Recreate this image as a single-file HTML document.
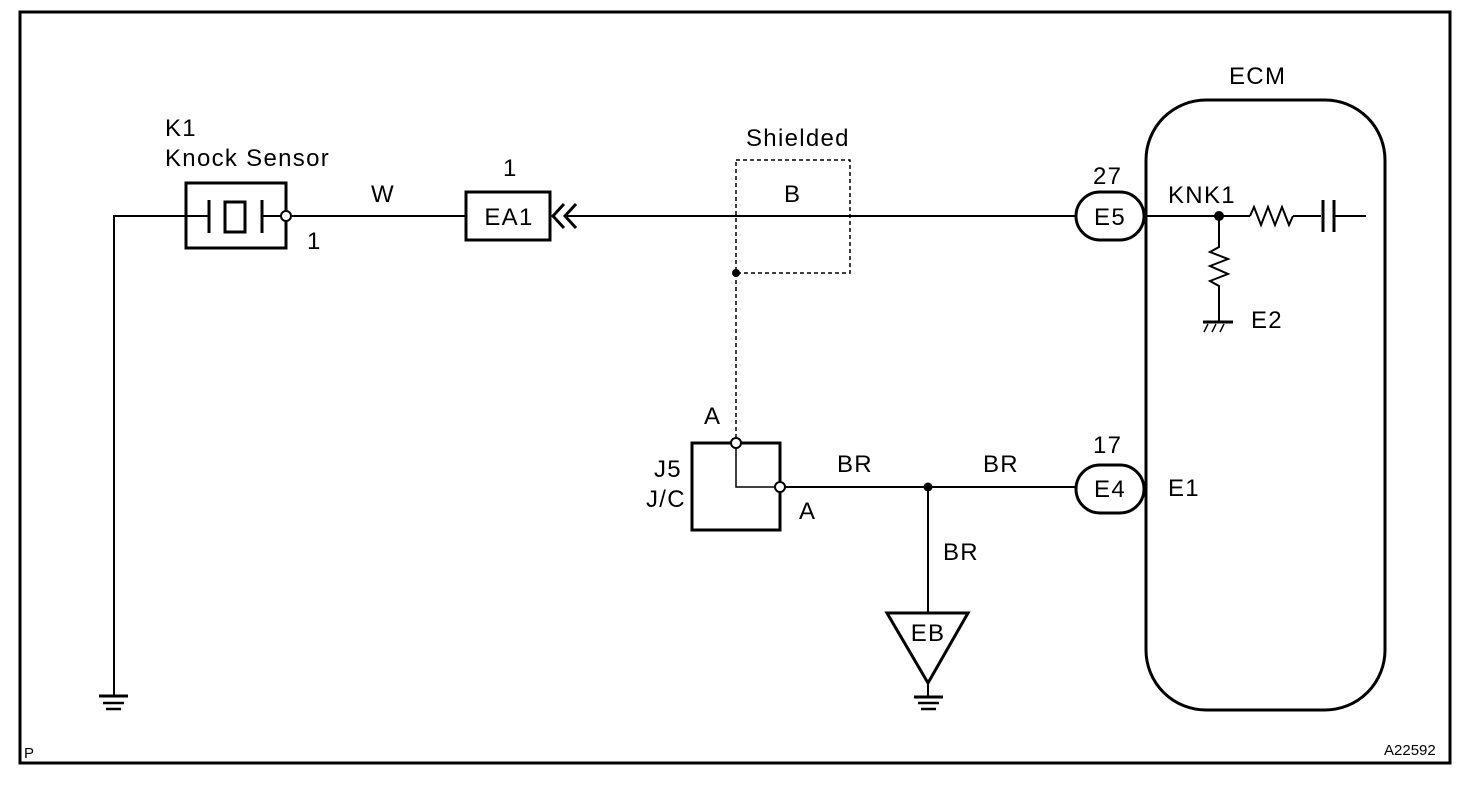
<!DOCTYPE html>
<html><head><style>
html,body{margin:0;padding:0;background:#fff;}
svg text{font-family:"Liberation Sans",Arial,sans-serif;font-size:24px;letter-spacing:1.3px;fill:#000;}
</style></head><body>
<svg width="1472" height="784" viewBox="0 0 1472 784" xmlns="http://www.w3.org/2000/svg">
<rect x="20" y="12" width="1430" height="751" fill="none" stroke="#000" stroke-width="3"/>
<g stroke="#000" fill="none" stroke-width="2">
<polyline points="185,216 114,216 114,696"/>
<line x1="99" y1="696" x2="128" y2="696" stroke-width="3"/>
<line x1="103" y1="703" x2="124" y2="703" stroke-width="2.5"/>
<line x1="106" y1="709" x2="121" y2="709" stroke-width="2.5"/>
<rect x="186" y="183" width="100" height="65" stroke-width="3"/>
<line x1="186" y1="216" x2="209" y2="216"/>
<line x1="209" y1="200" x2="209" y2="233" stroke-width="3"/>
<rect x="225" y="202" width="20" height="30" stroke-width="3"/>
<line x1="262" y1="200" x2="262" y2="233" stroke-width="3"/>
<line x1="262" y1="216" x2="281" y2="216"/>
<circle cx="286" cy="216" r="5" fill="#fff"/>
<line x1="291" y1="216" x2="466" y2="216"/>
<rect x="466" y="192" width="84" height="48" stroke-width="3"/>
<polyline points="564,204 553,216 564,228" stroke-width="3"/>
<polyline points="576,204 565,216 576,228" stroke-width="3"/>
<line x1="566" y1="216" x2="1076" y2="216"/>
<rect x="736" y="160" width="114" height="113" stroke-dasharray="4,3" stroke-width="1.5"/>
<line x1="736" y1="273" x2="736" y2="438" stroke-dasharray="4,3" stroke-width="1.5"/>
<rect x="692" y="443" width="88" height="87" stroke-width="3"/>
<polyline points="736,448 736,487 775,487" stroke-width="1.5"/>
<circle cx="736" cy="443" r="5" fill="#fff"/>
<circle cx="780" cy="487" r="5" fill="#fff"/>
<line x1="785" y1="487" x2="1076" y2="487"/>
<line x1="928" y1="487" x2="928" y2="613"/>
<polygon points="887,613 968,613 928,683" stroke-width="3"/>
<line x1="928" y1="683" x2="928" y2="696"/>
<line x1="914" y1="697" x2="943" y2="697" stroke-width="3"/>
<line x1="918" y1="703" x2="939" y2="703" stroke-width="2.5"/>
<line x1="921" y1="709" x2="936" y2="709" stroke-width="2.5"/>
<rect x="1076" y="192" width="68" height="48" rx="24" stroke-width="3"/>
<rect x="1076" y="465" width="68" height="48" rx="24" stroke-width="3"/>
<rect x="1146" y="100" width="239" height="610" rx="60" stroke-width="3"/>
<line x1="1146" y1="216" x2="1250" y2="216"/>
<polyline points="1250,216 1254,207 1261,225 1268,207 1275,225 1282,207 1289,225 1293,216"/>
<line x1="1293" y1="216" x2="1321" y2="216"/>
<line x1="1323" y1="200" x2="1323" y2="232" stroke-width="3"/>
<line x1="1334" y1="200" x2="1334" y2="232" stroke-width="3"/>
<line x1="1335" y1="216" x2="1366" y2="216"/>
<polyline points="1219,216 1219,247 1210,252 1228,259 1210,266 1228,274 1210,281 1219,286 1219,322"/>
<line x1="1203" y1="322" x2="1233" y2="322" stroke-width="3"/>
<line x1="1208" y1="324" x2="1204" y2="332" stroke-width="1.5"/>
<line x1="1216" y1="324" x2="1212" y2="332" stroke-width="1.5"/>
<line x1="1224" y1="324" x2="1220" y2="332" stroke-width="1.5"/>
</g>
<circle cx="736" cy="273" r="4"/>
<circle cx="928" cy="487" r="4.5"/>
<circle cx="1219" cy="216" r="5"/>
<text x="165" y="136">K1</text>
<text x="165" y="166">Knock Sensor</text>
<text x="307" y="249">1</text>
<text x="371" y="202">W</text>
<text x="503" y="176">1</text>
<text x="509" y="225" text-anchor="middle">EA1</text>
<text x="746" y="146">Shielded</text>
<text x="784" y="202">B</text>
<text x="1093" y="184">27</text>
<text x="1110" y="225" text-anchor="middle">E5</text>
<text x="1168" y="203">KNK1</text>
<text x="1229" y="84">ECM</text>
<text x="1251" y="328">E2</text>
<text x="704" y="424">A</text>
<text x="654" y="477">J5</text>
<text x="646" y="507">J/C</text>
<text x="799" y="519">A</text>
<text x="837" y="472">BR</text>
<text x="983" y="472">BR</text>
<text x="943" y="560">BR</text>
<text x="928" y="641" text-anchor="middle">EB</text>
<text x="1093" y="453">17</text>
<text x="1110" y="497" text-anchor="middle">E4</text>
<text x="1168" y="496">E1</text>
<text x="24" y="758" style="font-size:15px;letter-spacing:0">P</text>
<text x="1384" y="755" style="font-size:15px;letter-spacing:0">A22592</text>
</svg>
</body></html>
